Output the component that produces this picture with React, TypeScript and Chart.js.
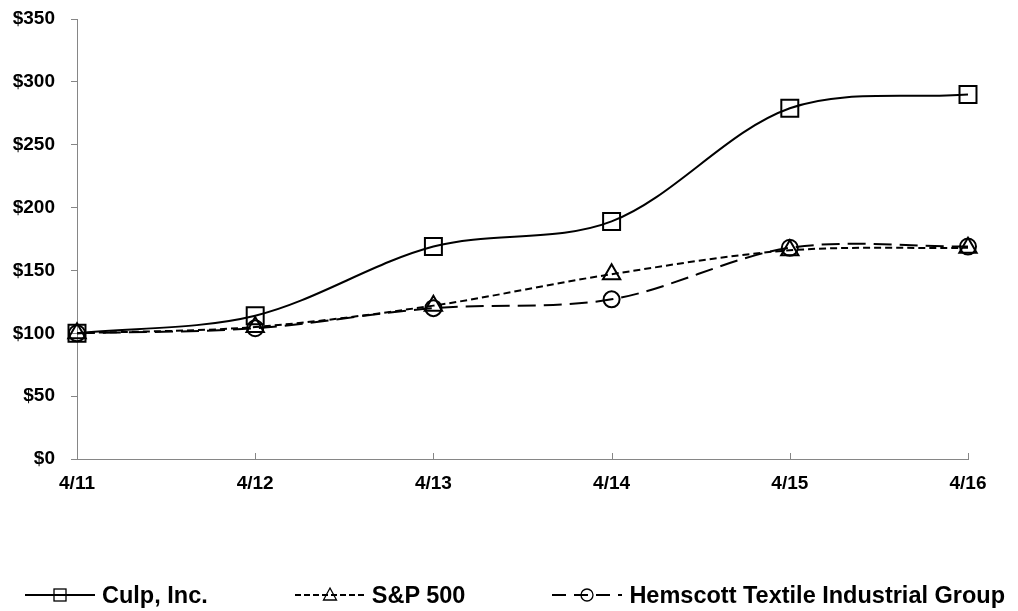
import React, { useEffect, useRef } from "react";
import { Chart, registerables } from "chart.js";

Chart.register(...registerables);

const categories = ["4/11", "4/12", "4/13", "4/14", "4/15", "4/16"];
const culpValues = [100, 114, 169, 189, 279, 290];
const spValues = [100, 105, 122, 147, 166, 168];
const hemscottValues = [100, 104, 120, 127, 168, 169];
const seriesNames = ["Culp, Inc.", "S&P 500", "Hemscott Textile Industrial Group"];
const yTicks = [0, 50, 100, 150, 200, 250, 300, 350];

const FONT = "'Liberation Sans', Arial, Helvetica, sans-serif";
const AXIS_GRAY = "#868686";

const innerTicks = {
  id: "innerTicks",
  afterDraw(chart: any) {
    const xs = chart.scales.x;
    const bottom = chart.chartArea.bottom;
    const ctx = chart.ctx;
    ctx.save();
    ctx.strokeStyle = AXIS_GRAY;
    ctx.lineWidth = 1;
    xs.ticks.forEach((_t: any, i: number) => {
      const x = Math.round(xs.getPixelForTick(i)) + 0.5;
      ctx.beginPath();
      ctx.moveTo(x, bottom);
      ctx.lineTo(x, bottom - 6);
      ctx.stroke();
    });
    ctx.restore();
  },
};

function LegendSymbol({ kind }: { kind: number }) {
  const dash = kind === 1 ? "6 3" : kind === 2 ? "14 8" : undefined;
  return (
    <svg width={70} height={24} style={{ display: "block" }}>
      <line x1={0} y1={12} x2={70} y2={12} stroke="#000" strokeWidth={2} strokeDasharray={dash} />
      {kind === 0 && <rect x={29} y={6} width={12} height={12} fill="none" stroke="#000" strokeWidth={1.3} />}
      {kind === 1 && <polygon points="35,5 41.5,17 28.5,17" fill="none" stroke="#000" strokeWidth={1.3} />}
      {kind === 2 && <circle cx={35} cy={12} r={6} fill="none" stroke="#000" strokeWidth={1.3} />}
    </svg>
  );
}

export default function App() {
  const canvasRef = useRef<HTMLCanvasElement | null>(null);

  useEffect(() => {
    document.body.style.margin = "0";
    const canvas = canvasRef.current;
    if (!canvas) return;
    const tickFont = { family: FONT, size: 19, weight: "bold" as const };
    const chart = new Chart(canvas, {
      type: "line",
      data: {
        labels: categories,
        datasets: [
          {
            label: seriesNames[0],
            data: culpValues,
            borderColor: "#000",
            borderWidth: 2,
            tension: 0.33,
            pointStyle: "rect",
            pointRadius: 12,
            pointBorderWidth: 2,
            pointBorderColor: "#000",
            pointBackgroundColor: "rgba(0,0,0,0)",
            clip: false,
          } as any,
          {
            label: seriesNames[1],
            data: spValues,
            borderColor: "#000",
            borderWidth: 2,
            borderDash: [7, 4],
            tension: 0.33,
            pointStyle: "triangle",
            pointRadius: 10,
            pointBorderWidth: 2,
            pointBorderColor: "#000",
            pointBackgroundColor: "rgba(0,0,0,0)",
            clip: false,
          } as any,
          {
            label: seriesNames[2],
            data: hemscottValues,
            borderColor: "#000",
            borderWidth: 2,
            borderDash: [18, 8],
            tension: 0.33,
            pointStyle: "circle",
            pointRadius: 8,
            pointBorderWidth: 2,
            pointBorderColor: "#000",
            pointBackgroundColor: "rgba(0,0,0,0)",
            clip: false,
          } as any,
        ],
      },
      options: {
        animation: false,
        responsive: false,
        events: [],
        layout: { padding: { left: 0, right: 50, top: 19, bottom: 0 } },
        plugins: { legend: { display: false }, tooltip: { enabled: false } },
        scales: {
          x: {
            type: "category",
            offset: false,
            grid: { display: true, drawOnChartArea: false, drawTicks: false, color: AXIS_GRAY },
            border: { display: true, color: AXIS_GRAY, width: 1 },
            ticks: { color: "#000", font: tickFont, padding: 13, maxRotation: 0, autoSkip: false },
            afterFit(scale: any) {
              scale.height = 152;
              scale.paddingLeft = 0;
              scale.paddingRight = 0;
            },
          },
          y: {
            min: 0,
            max: 350,
            afterBuildTicks(scale: any) {
              scale.ticks = yTicks.map((v) => ({ value: v }));
            },
            grid: { drawOnChartArea: false, drawTicks: true, tickLength: 6, color: AXIS_GRAY },
            border: { display: true, color: AXIS_GRAY, width: 1 },
            ticks: {
              color: "#000",
              font: tickFont,
              padding: 16,
              callback: (v: any) => "$" + v,
            },
            afterFit(scale: any) {
              scale.width = 77;
              scale.paddingTop = 0;
              scale.paddingBottom = 0;
            },
          },
        },
      },
      plugins: [innerTicks],
    });
    return () => chart.destroy();
  }, []);

  return (
    <div style={{ position: "relative", width: 1018, height: 611, background: "#fff" }}>
      <canvas ref={canvasRef} width={1018} height={611} style={{ display: "block" }} />
      <div
        style={{
          position: "absolute",
          top: 583,
          left: 25,
          display: "flex",
          alignItems: "center",
          fontFamily: FONT,
          fontWeight: "bold",
          fontSize: 23.5,
          lineHeight: "24px",
          color: "#000",
          whiteSpace: "nowrap",
        }}
      >
        {seriesNames.map((name, i) => (
          <div key={name} style={{ display: "flex", alignItems: "center", marginRight: i < 2 ? 87 : 0 }}>
            <LegendSymbol kind={i} />
            <span style={{ marginLeft: 7 }}>{name}</span>
          </div>
        ))}
      </div>
    </div>
  );
}
